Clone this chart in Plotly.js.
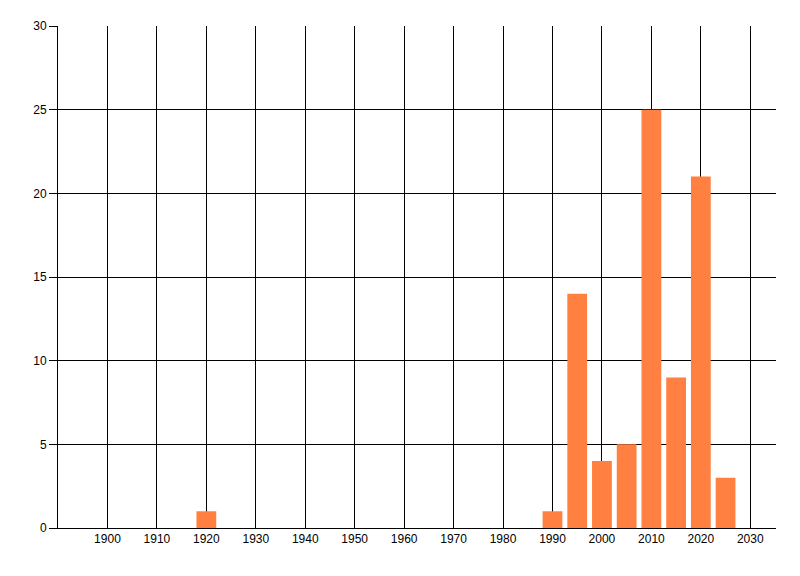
<!DOCTYPE html>
<html>
<head>
<meta charset="utf-8">
<script src="https://cdn.plot.ly/plotly-3.0.1.min.js"></script>
<style>html,body{margin:0;padding:0;background:#fff;}#chart{width:800px;height:576px;}</style>
</head>
<body>
<div id="chart"></div>
<script>
const years = [1920, 1990, 1995, 2000, 2005, 2010, 2015, 2020, 2025];
const counts = [1, 1, 14, 4, 5, 25, 9, 21, 3];
const xTicks = [1900, 1910, 1920, 1930, 1940, 1950, 1960, 1970, 1980, 1990, 2000, 2010, 2020, 2030];
const yTicks = [0, 5, 10, 15, 20, 25, 30];

const trace = {
  type: 'bar',
  x: years,
  y: counts,
  width: 4,
  marker: {color: '#FF8040', line: {width: 0}},
  hoverinfo: 'x+y'
};

const layout = {
  width: 800,
  height: 576,
  margin: {l: 58, r: 24, t: 26, b: 48, pad: 0},
  paper_bgcolor: '#ffffff',
  plot_bgcolor: '#ffffff',
  showlegend: false,
  font: {family: 'Liberation Sans, Arial, sans-serif', size: 12, color: '#000000'},
  xaxis: {
    range: [1890, 2035.2],
    tickmode: 'array',
    tickvals: xTicks,
    ticktext: xTicks.map(String),
    showgrid: true,
    gridcolor: '#000000',
    gridwidth: 1,
    showline: true,
    linecolor: '#000000',
    linewidth: 1,
    ticks: '',
    zeroline: false,
    tickfont: {size: 12, color: '#000000'}
  },
  yaxis: {
    range: [0, 30],
    tickmode: 'array',
    tickvals: yTicks,
    ticktext: yTicks.map(String),
    showgrid: true,
    gridcolor: '#000000',
    gridwidth: 1,
    showline: true,
    linecolor: '#000000',
    linewidth: 1,
    ticks: 'outside',
    ticklen: 8,
    tickcolor: '#000000',
    tickwidth: 1,
    zeroline: false,
    tickfont: {size: 12, color: '#000000'}
  }
};

Plotly.newPlot('chart', [trace], layout, {displayModeBar: false, staticPlot: true});
</script>
</body>
</html>
